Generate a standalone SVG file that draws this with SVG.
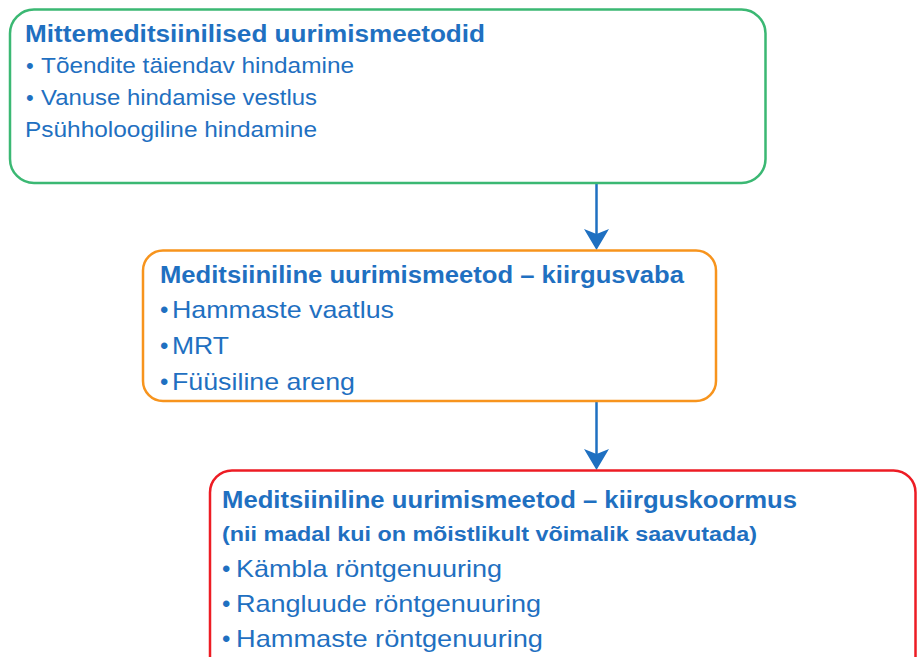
<svg xmlns="http://www.w3.org/2000/svg" width="917" height="657" viewBox="0 0 917 657">
<style>
.box{fill:#fff;stroke-width:2.5}
.t{font-family:"Liberation Sans",Arial,sans-serif;fill:#1F70C1}
.h{font-weight:bold;font-size:23px}
.s{font-weight:bold;font-size:20px}
.i{font-size:22px}
.j{font-size:24px}
.b{font-size:18px}
.c{stroke:#1F70C1;stroke-width:2.5;fill:none}
.ah{fill:#1F70C1}
</style>
<g id="connectors">
<line class="c" x1="596.5" y1="184" x2="596.5" y2="234"/>
<path class="ah" d="M584,229 L596.5,234 L609,229 L596.5,250 Z"/>
<line class="c" x1="596.5" y1="402" x2="596.5" y2="454"/>
<path class="ah" d="M584,449 L596.5,454 L609,449 L596.5,470 Z"/>
</g>
<g id="node-nonmedical">
<rect class="box" x="10" y="9.5" width="755.5" height="173.5" rx="24" stroke="#3BB873"/>
<text class="t h" x="25" y="42" textLength="460" lengthAdjust="spacingAndGlyphs">Mittemeditsiinilised uurimismeetodid</text>
<text class="t i" x="26" y="73">•</text>
<text class="t i" x="41" y="73" textLength="313" lengthAdjust="spacingAndGlyphs">Tõendite täiendav hindamine</text>
<text class="t i" x="26" y="105">•</text>
<text class="t i" x="41" y="105" textLength="276" lengthAdjust="spacingAndGlyphs">Vanuse hindamise vestlus</text>
<text class="t i" x="25" y="137" textLength="292" lengthAdjust="spacingAndGlyphs">Psühholoogiline hindamine</text>
</g>
<g id="node-radiationfree">
<rect class="box" x="143" y="250.5" width="573" height="150.5" rx="20" stroke="#F7941D"/>
<text class="t h" x="160" y="283" textLength="524" lengthAdjust="spacingAndGlyphs">Meditsiiniline uurimismeetod – kiirgusvaba</text>
<text class="t j" x="160" y="318">•</text>
<text class="t j" x="172" y="318" textLength="222" lengthAdjust="spacingAndGlyphs">Hammaste vaatlus</text>
<text class="t j" x="160" y="354">•</text>
<text class="t j" x="172" y="354" textLength="57" lengthAdjust="spacingAndGlyphs">MRT</text>
<text class="t j" x="160" y="390">•</text>
<text class="t j" x="172" y="390" textLength="183" lengthAdjust="spacingAndGlyphs">Füüsiline areng</text>
</g>
<g id="node-radiation">
<rect class="box" x="210" y="470.5" width="705.5" height="230" rx="22" stroke="#ED1C24"/>
<text class="t h" x="222" y="508" textLength="575" lengthAdjust="spacingAndGlyphs">Meditsiiniline uurimismeetod – kiirguskoormus</text>
<text class="t s" x="222" y="541" textLength="535" lengthAdjust="spacingAndGlyphs">(nii madal kui on mõistlikult võimalik saavutada)</text>
<text class="t j" x="222" y="577">•</text>
<text class="t j" x="236" y="577" textLength="266" lengthAdjust="spacingAndGlyphs">Kämbla röntgenuuring</text>
<text class="t j" x="222" y="612">•</text>
<text class="t j" x="236" y="612" textLength="305" lengthAdjust="spacingAndGlyphs">Rangluude röntgenuuring</text>
<text class="t j" x="222" y="647">•</text>
<text class="t j" x="236" y="647" textLength="307" lengthAdjust="spacingAndGlyphs">Hammaste röntgenuuring</text>
</g>
</svg>
